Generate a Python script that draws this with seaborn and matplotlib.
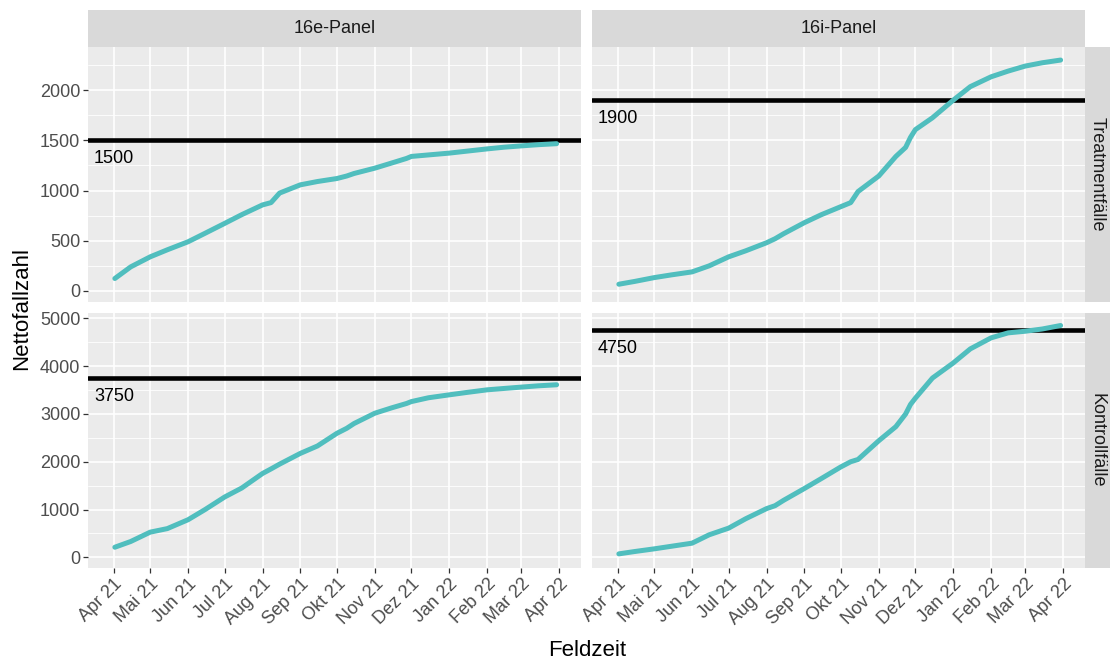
import numpy as np
import pandas as pd
import matplotlib
matplotlib.use("Agg")
import matplotlib.pyplot as plt
import matplotlib.ticker as mticker
import seaborn as sns

# cumulative net case counts
dates = ["2021-04-02", "2021-04-15", "2021-05-01", "2021-05-15", "2021-06-01", "2021-06-15",
         "2021-07-01", "2021-07-15", "2021-08-01", "2021-08-08", "2021-08-15", "2021-09-01",
         "2021-09-15", "2021-10-01", "2021-10-09", "2021-10-15", "2021-11-01", "2021-11-15",
         "2021-11-23", "2021-11-27", "2021-12-01", "2021-12-15", "2022-01-01", "2022-01-15",
         "2022-02-01", "2022-02-15", "2022-03-01", "2022-03-15", "2022-03-30"]
treat_16e = [124, 240, 340, 410, 490, 575, 673, 760, 857, 880, 975, 1057, 1090, 1120, 1145,
             1170, 1223, 1275, 1305, 1320, 1340, 1355, 1373, 1392, 1415, 1432, 1445, 1457, 1467]
treat_16i = [67, 95, 133, 160, 190, 250, 340, 400, 480, 520, 570, 680, 760, 840, 880,
             990, 1145, 1340, 1430, 1530, 1607, 1725, 1900, 2035, 2133, 2190, 2240, 2273, 2300]
kontroll_16e = [210, 330, 526, 600, 786, 1000, 1262, 1450, 1754, 1850, 1950, 2175, 2330, 2596, 2700,
                2800, 3016, 3130, 3190, 3220, 3260, 3340, 3401, 3450, 3506, 3535, 3563, 3590, 3612]
kontroll_16i = [71, 120, 176, 230, 295, 470, 610, 807, 1018, 1080, 1192, 1439, 1649, 1893, 2000,
                2048, 2440, 2735, 3000, 3200, 3332, 3753, 4068, 4363, 4594, 4699, 4733, 4780, 4853]

panels = ["16e-Panel", "16i-Panel"]
groups = ["Treatmentfälle", "Kontrollfälle"]
targets_treat = [1500, 1900]
targets_kontroll = [3750, 4750]
month_labels = ["Apr 21", "Mai 21", "Jun 21", "Jul 21", "Aug 21", "Sep 21", "Okt 21",
                "Nov 21", "Dez 21", "Jan 22", "Feb 22", "Mar 22", "Apr 22"]

series = {("Treatmentfälle", "16e-Panel"): treat_16e,
          ("Treatmentfälle", "16i-Panel"): treat_16i,
          ("Kontrollfälle", "16e-Panel"): kontroll_16e,
          ("Kontrollfälle", "16i-Panel"): kontroll_16i}
targets = {"Treatmentfälle": targets_treat, "Kontrollfälle": targets_kontroll}

rows = []
for (g, p), vals in series.items():
    for d, v in zip(dates, vals):
        rows.append({"Feldzeit": pd.Timestamp(d), "Nettofallzahl": v, "Panel": p, "Gruppe": g})
df = pd.DataFrame(rows)

sns.set_style("darkgrid", {"axes.facecolor": "#EBEBEB", "grid.color": "white"})
plt.rcParams['font.family'] = ['Liberation Sans', 'DejaVu Sans']

teal = "#50BEBE"
strip_bg = "#D9D9D9"
W, H = 1110, 661
fig = plt.figure(figsize=(W / 100, H / 100), dpi=100)

col_x = [(88, 581), (592, 1085)]
row_y = [(47, 302), (313, 568)]
ylims = {"Treatmentfälle": (-110, 2430), "Kontrollfälle": (-225, 5115)}
ysteps = {"Treatmentfälle": 500, "Kontrollfälle": 1000}
month_ticks = pd.date_range("2021-04-01", "2022-04-01", freq="MS")
xlim = (pd.Timestamp("2021-03-11"), pd.Timestamp("2022-04-19"))

def rect(x0, x1, y0, y1):
    return [x0 / W, 1 - y1 / H, (x1 - x0) / W, (y1 - y0) / H]

for i, g in enumerate(groups):
    for j, p in enumerate(panels):
        ax = fig.add_axes(rect(col_x[j][0], col_x[j][1], row_y[i][0], row_y[i][1]))
        sub = df[(df["Gruppe"] == g) & (df["Panel"] == p)]
        tv = targets[g][j]
        ax.axhline(tv, color="black", lw=3.3, zorder=2)
        sns.lineplot(data=sub, x="Feldzeit", y="Nettofallzahl", ax=ax, color=teal,
                     linewidth=3.6, estimator=None, zorder=3)
        ax.annotate(str(tv), xy=(0.012, tv), xycoords=("axes fraction", "data"),
                    xytext=(0, -7), textcoords="offset points", va="top", ha="left",
                    fontsize=13, color="black")
        ax.set_xlim(*xlim)
        lo, hi = ylims[g]
        ax.set_ylim(lo, hi)
        step = ysteps[g]
        major = np.arange(0, hi, step)
        ax.yaxis.set_major_locator(mticker.FixedLocator(major))
        ax.yaxis.set_minor_locator(mticker.FixedLocator(major + step / 2))
        ax.set_xticks(month_ticks)
        ax.grid(which="major", color="white", lw=1.2)
        ax.grid(which="minor", axis="y", color="white", lw=0.6)
        for s in ax.spines.values():
            s.set_visible(False)
        ax.set_xlabel("")
        ax.set_ylabel("")
        ax.tick_params(which="major", length=3.5, width=0.9, color="#333333",
                       labelcolor="#4D4D4D", labelsize=13, pad=2)
        ax.tick_params(which="minor", length=0)
        if j == 0:
            ax.set_yticklabels([str(int(v)) for v in major])
            ax.tick_params(axis="y", left=True)
        else:
            ax.set_yticklabels([])
            ax.tick_params(axis="y", left=False)
        if i == 1:
            ax.set_xticklabels(month_labels, rotation=45, ha="right", rotation_mode="anchor")
            ax.tick_params(axis="x", bottom=True)
        else:
            ax.set_xticklabels([])
            ax.tick_params(axis="x", bottom=False)

# column strips
for j, p in enumerate(panels):
    sax = fig.add_axes(rect(col_x[j][0], col_x[j][1], 10, 47))
    sax.set_facecolor(strip_bg)
    sax.set_xticks([]); sax.set_yticks([])
    for s in sax.spines.values():
        s.set_visible(False)
    sax.text(0.5, 0.5, p, ha="center", va="center", fontsize=13, color="#1A1A1A",
             transform=sax.transAxes)

# row strips
for i, g in enumerate(groups):
    sax = fig.add_axes(rect(1085, 1110, row_y[i][0], row_y[i][1]))
    sax.set_facecolor(strip_bg)
    sax.set_xticks([]); sax.set_yticks([])
    for s in sax.spines.values():
        s.set_visible(False)
    sax.text(0.5, 0.5, g, ha="center", va="center", rotation=-90, fontsize=13,
             color="#1A1A1A", transform=sax.transAxes)

fig.text(22 / W, 1 - 308 / H, "Nettofallzahl", rotation=90, ha="center", va="center",
         fontsize=16, color="black")
fig.text(587 / W, 1 - 650 / H, "Feldzeit", ha="center", va="center", fontsize=16,
         color="black")

fig.savefig("out.png", dpi=100)
